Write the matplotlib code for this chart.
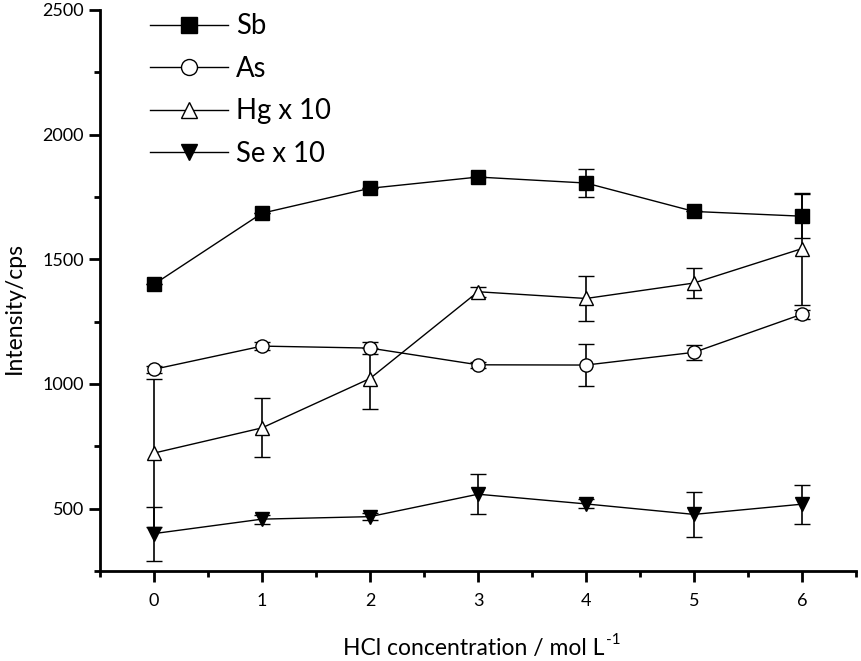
import matplotlib.pyplot as plt
from matplotlib.lines import Line2D
from matplotlib.ticker import MultipleLocator

plt.rcParams['font.family'] = ['Lato', 'DejaVu Sans']

hcl = [0, 1, 2, 3, 4, 5, 6]

sb = [1400, 1685, 1785, 1830, 1806, 1692, 1673]
sb_err = [0, 0, 0, 0, 58, 0, 88]

as_ = [1059, 1152, 1144, 1077, 1076, 1127, 1280]
as_err = [15, 15, 25, 12, 86, 31, 18]

hg = [723, 824, 1022, 1370, 1343, 1405, 1543]
hg_err = [297, 118, 124, 20, 90, 60, 225]

se = [400, 458, 468, 558, 519, 477, 518]
se_err = [108, 18, 15, 80, 18, 89, 78]

fig = plt.figure(figsize=(8.61, 6.61), dpi=100)
ax = fig.add_axes([100 / 861, 1 - 571 / 661, 756 / 861, 561 / 661])

series = [
    (sb, sb_err, 's', 'black', 'Sb'),
    (as_, as_err, 'o', 'white', 'As'),
    (hg, hg_err, '^', 'white', 'Hg x 10'),
    (se, se_err, 'v', 'black', 'Se x 10'),
]
handles = []
for vals, err, mk, fc, name in series:
    ax.errorbar(hcl, vals, yerr=err, color='black', lw=1, elinewidth=1.2,
                capsize=6, capthick=1.2, marker=mk, markersize=9.5,
                markerfacecolor=fc, markeredgecolor='black', markeredgewidth=1)
    handles.append(Line2D([], [], color='black', lw=1, marker=mk, markersize=11.5,
                          markerfacecolor=fc, markeredgecolor='black',
                          markeredgewidth=1, label=name))

ax.set_xlim(-0.5, 6.5)
ax.set_ylim(250, 2500)
ax.xaxis.set_major_locator(MultipleLocator(1))
ax.xaxis.set_minor_locator(MultipleLocator(0.5))
ax.set_yticks([500, 1000, 1500, 2000, 2500])
ax.yaxis.set_minor_locator(MultipleLocator(250))
ax.tick_params(which='major', length=8, width=2, labelsize=13, direction='out')
ax.tick_params(which='minor', length=4, width=2, direction='out')
ax.tick_params(axis='x', pad=8)
for s in ['top', 'right']:
    ax.spines[s].set_visible(False)
for s in ['left', 'bottom']:
    ax.spines[s].set_linewidth(2)

ax.set_ylabel('Intensity/cps', fontsize=16.5)
ax.yaxis.set_label_coords(-0.099, 0.469)
fig.text(474 / 861, 1 - 655 / 661, 'HCl concentration / mol L', fontsize=16.5,
         ha='center', va='baseline')
fig.text(606 / 861, 1 - 644 / 661, '-1', fontsize=11, ha='left', va='baseline')

ax.legend(handles=handles, loc='upper left', bbox_to_anchor=(0.033, 1.038),
          frameon=False, fontsize=19.8, handlelength=2.84, labelspacing=0.6,
          handletextpad=0.31)

fig.savefig('out.png', dpi=100)
